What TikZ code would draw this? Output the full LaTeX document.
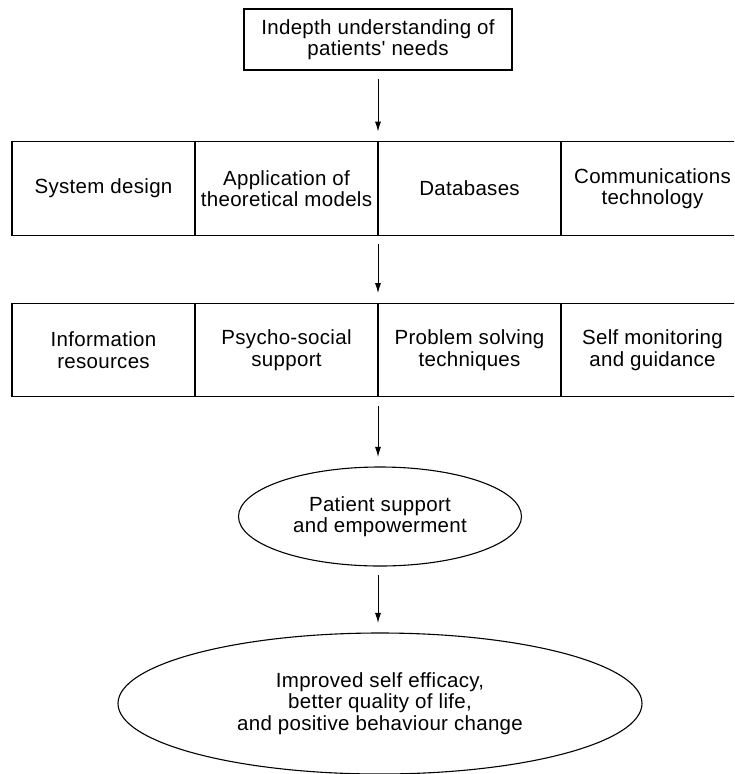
\documentclass[tikz,border=0pt]{standalone}
\usepackage{fontspec}
\setmainfont[LetterSpace=1.5,Ligatures=TeXOff]{Liberation Sans}
\usetikzlibrary{arrows.meta,shapes.geometric}
\begin{document}
\begin{tikzpicture}[x=1pt,y=-1pt,
  every node/.style={font=\fontsize{20.5}{21.5}\selectfont, align=center, inner sep=0pt},
  cell/.style={draw=black, line width=1.3pt, rectangle, minimum width=183pt, minimum height=93.5pt},
  topbox/.style={draw=black, line width=1.2pt, rectangle, minimum width=268pt, minimum height=61pt},
  oval/.style={draw=black, line width=1.1pt, ellipse, inner sep=0pt},
  arr/.style={-{Latex[length=10pt,width=6pt]}, line width=0.9pt, shorten <=8.5pt, shorten >=9.5pt}]
\useasboundingbox (0,0) rectangle (734,774);
\clip (0,0) rectangle (734,774);
\node[topbox] (top) at (378,39.5) {Indepth understanding of\\patients' needs};
% row 1
\node[cell] (a1) at (103.5,188.5) {System design};
\node[cell] (a2) at (286.5,188.5) {Application of\\theoretical models};
\node[cell] (a3) at (469.5,188.5) {Databases};
\node[cell] (a4) at (652.5,188.5) {Communications\\technology};
% row 2
\node[cell] (b1) at (103.5,350) {Information\\resources};
\node[cell] (b2) at (286.5,350) {Psycho-social\\support};
\node[cell] (b3) at (469.5,350) {Problem solving\\techniques};
\node[cell] (b4) at (652.5,350) {Self monitoring\\and guidance};
% ellipses
\node[oval, minimum width=283pt, minimum height=99pt] (e1) at (380,516.5) {Patient support\\and empowerment};
\node[oval, minimum width=524pt, minimum height=141pt] (e2) at (380,703.5) {Improved self efficacy,\\better quality of life,\\and positive behaviour change};
% arrows
\draw[arr] (top.south) -- (top.south |- a2.north);
\draw[arr] (top.south |- a2.south) -- (top.south |- b2.north);
\draw[arr] (top.south |- b2.south) -- (top.south |- e1.north);
\draw[arr] (top.south |- e1.south) -- (top.south |- e2.north);
\end{tikzpicture}
\end{document}
